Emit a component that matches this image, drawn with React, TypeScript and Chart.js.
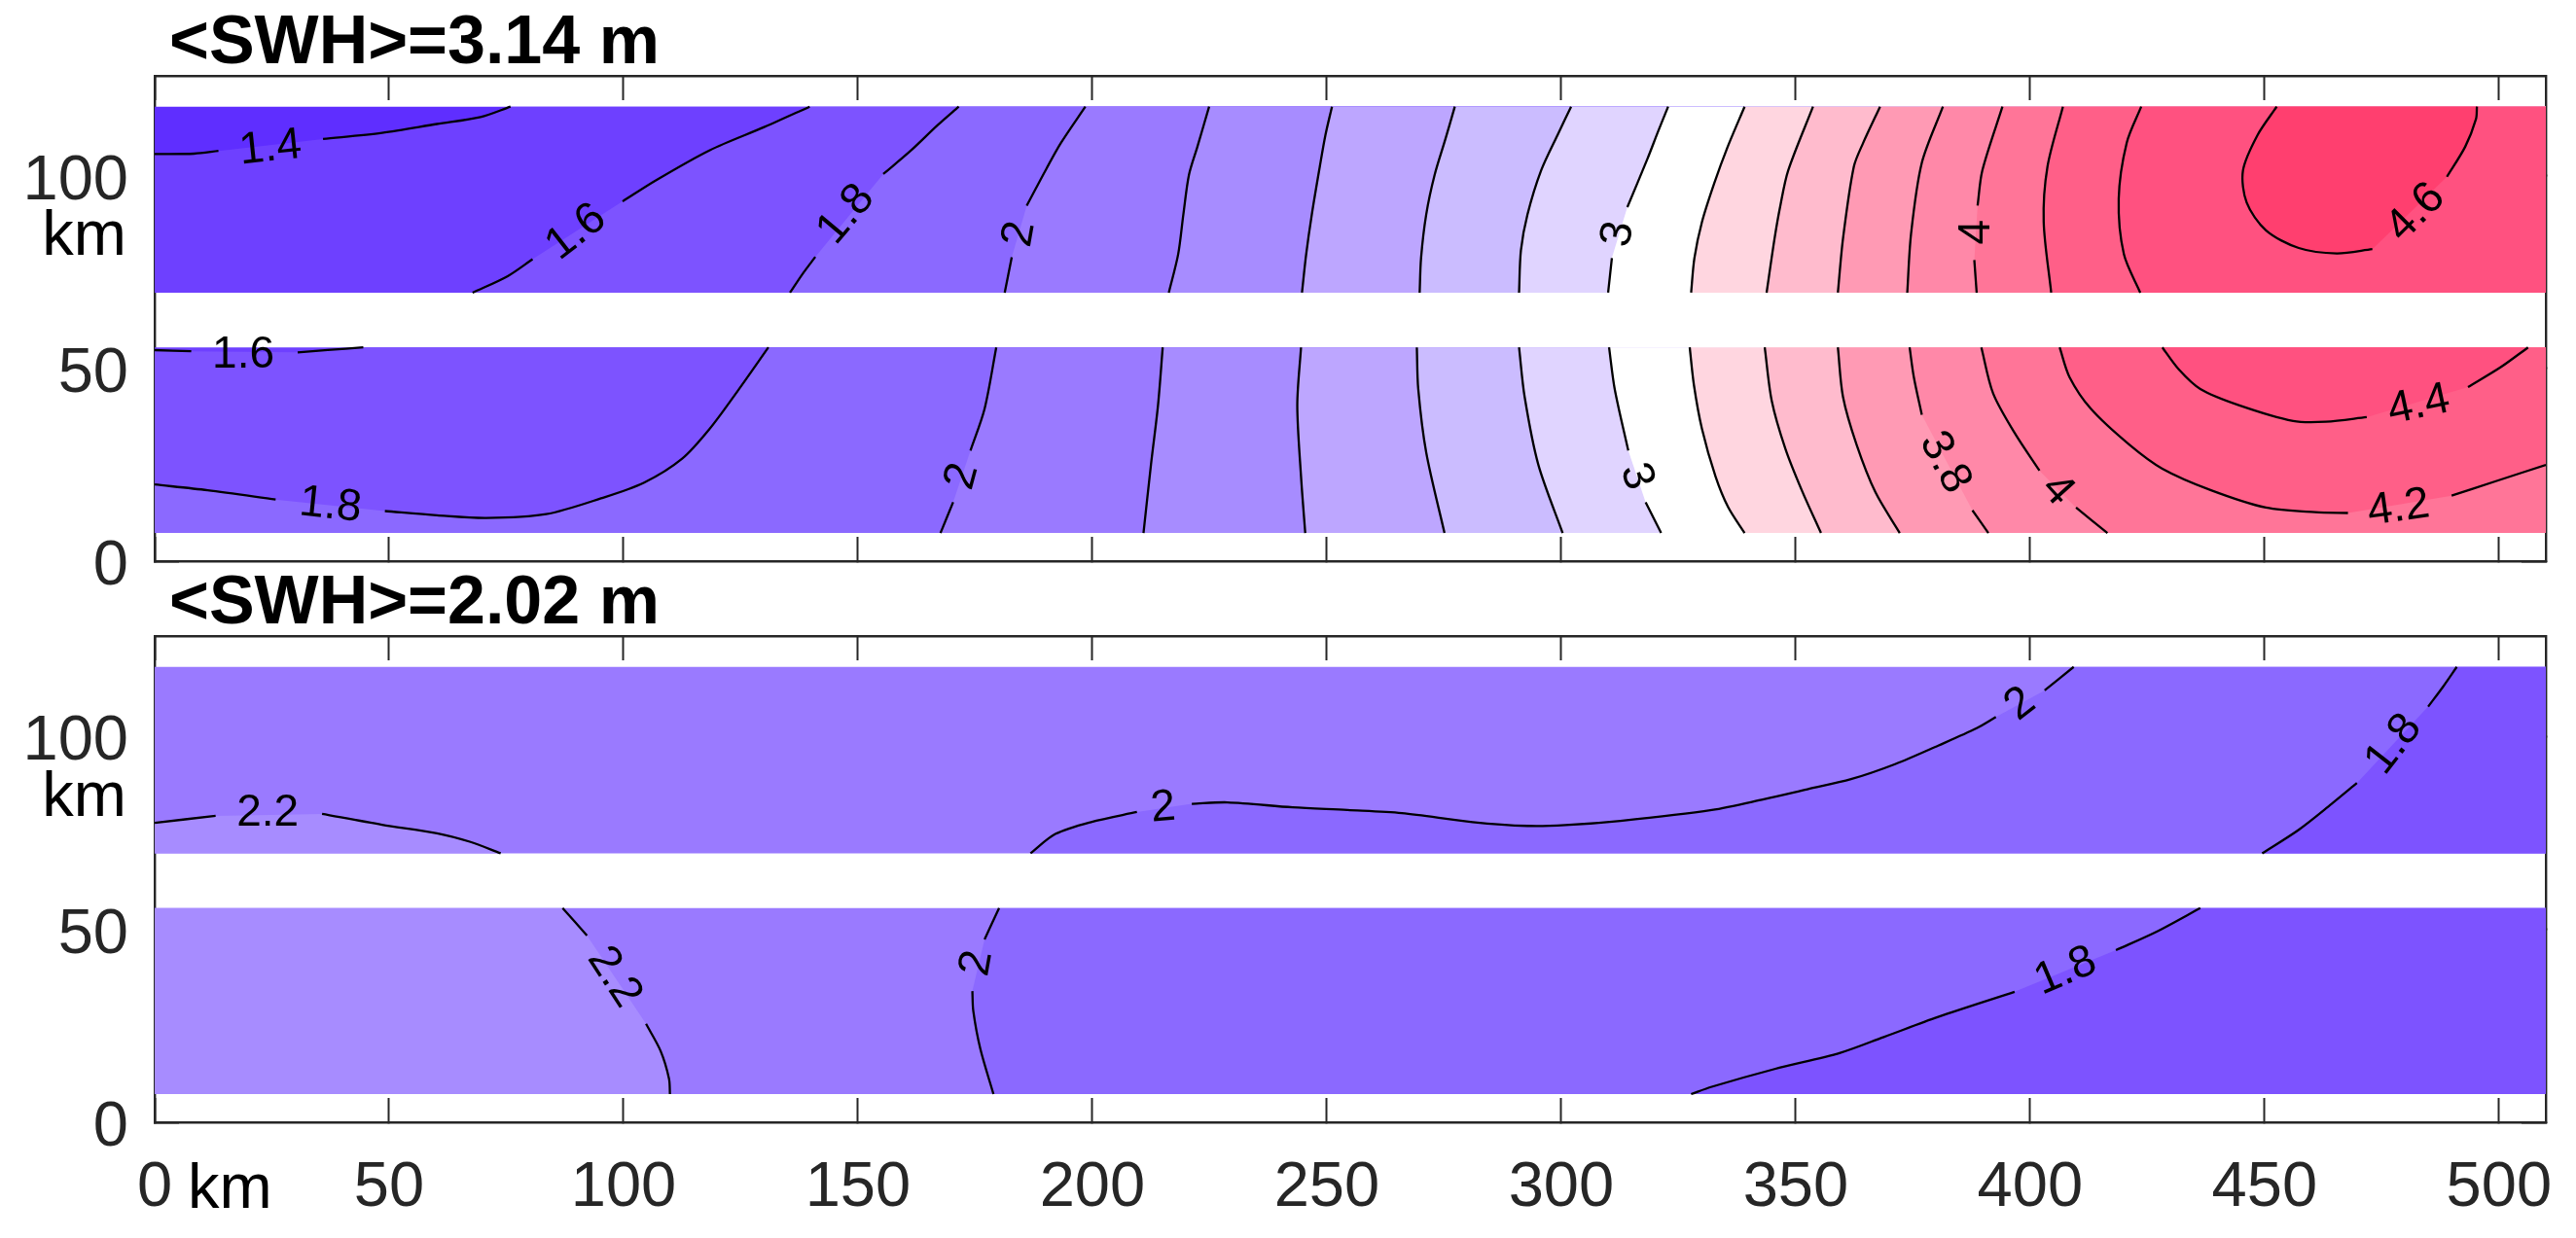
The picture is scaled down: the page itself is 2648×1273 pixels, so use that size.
import React, { useEffect, useRef } from "react";
import { Chart, registerables } from "chart.js";

Chart.register(...registerables);

type P = [number, number] | null;

const FONT = '"Liberation Sans"';
const xTicks = [0, 50, 100, 150, 200, 250, 300, 350, 400, 450, 500];
const yTicks = [0, 50, 100];
const XMAX = 510;
const YMAX = 126;
const titleTop = "<SWH>=3.14 m";
const titleBottom = "<SWH>=2.02 m";

// colours of the filled contour levels
const cLt14 = "#5f2eff";
const c14 = "#6e40ff";
const c16 = "#7d53ff";
const c18 = "#8b69ff";
const c20 = "#9a7aff";
const c22 = "#a78cff";
const c24 = "#bda6ff";
const c26 = "#cbbcff";
const c28 = "#e0d4ff";
const c30 = "#ffffff";
const c32 = "#ffd6e0";
const c34 = "#ffbbcd";
const c36 = "#ff9ab4";
const c38 = "#ff88a8";
const c40 = "#ff7598";
const c42 = "#ff5f88";
const c44 = "#ff5180";
const c46 = "#ff3f6f";

// bands of data (km)
const upTop = 118, upBot = 69.7, loTop = 55.5, loBot = 7.3;

// TOP PANEL, upper band
const a14: P[] = [[0,105.7],[8.4,105.8],[13.6,106.5],null,[35.9,109.6],[48.5,111.2],[60.2,113.5],[69.5,115.3],[75.9,118]];
const a16: P[] = [[67.8,69.7],[75.3,74],[80.6,78.4],null,[99.8,93.4],[106.8,98.8],[118.4,106.7],[130,112.7],[139.7,118]];
const a18: P[] = [[135.5,69.7],[138.2,74.6],[140.9,79],null,[155.4,100.5],[161.2,106.5],[167,113.2],[171.5,118]];
const a20: P[] = [[181.3,69.7],[182.8,78.9],null,[186,92.3],[190.2,101.9],[193.3,108.6],[198.5,118]];
const a22: P[] = [[216.3,69.7],[218.3,79.7],[219.4,90],[220.6,100.3],[222.4,107.6],[224.9,118]];
const a24: P[] = [[244.7,69.7],[245.6,79.7],[246.8,90],[248.5,102.4],[249.7,110.6],[251.1,118]];
const a26: P[] = [[269.8,69.7],[270.1,78.7],[271.2,90],[273,100.3],[275.3,109.6],[277.3,118]];
const a28: P[] = [[291,69.7],[291.4,80.7],[292.8,90],[295.7,101.4],[299.2,110.6],[302.1,118]];
const a30: P[] = [[310,69.7],[310.8,78.7],null,[314.1,91.9],[318.4,104.5],[320.7,111.7],[322.8,118]];
const a32: P[] = [[327.7,69.7],[328.4,78.7],[330,88],[332.6,98],[335.5,107.6],[339.1,118]];
const a34: P[] = [[343.8,69.7],[345.5,83.8],[346.7,92.1],[348.4,101.4],[353.7,118]];
const a36: P[] = [[359,69.7],[360.1,83.8],[362.4,102.4],[364.4,108.6],[368,118]];
const a38: P[] = [[373.8,69.7],[374.6,84.9],[376.9,103.4],[381.4,118]];
const a40: P[] = [[388.6,69.7],[388.1,78.2],null,[388.8,92.3],[389.8,101.4],[394.1,118]];
const a42: P[] = [[404.5,69.7],[402.9,88],[403.7,102.4],[407,118]];
const a44: P[] = [[423.5,69.7],[420,79.7],[418.9,94.1],[420.6,108.6],[423.7,118]];
const a46: P[] = [[452.6,118],[448.5,110.6],[445.4,101.4],[446.2,93.1],[450.3,85.9],[457.3,81.3],[465.4,79.9],[473,81],null,[488.9,99.8],[492.8,107.6],[495.1,114.8],[495.3,118]];

// TOP PANEL, lower band
const b16: P[] = [[0,54.8],[7.8,54.5],null,[30.5,54.2],[36.9,54.8],[44.5,55.5]];
const b18: P[] = [[0,19.9],[11.3,18.4],[25.8,16],null,[49.1,13],[60.2,11.9],[70.7,11.2],[83.5,12.2],[95.2,16.3],[104.4,20.4],[112.5,26.6],[118.4,34.4],[124.3,44.1],[130.9,55.5]];
const b20: P[] = [[179.5,55.5],[177,39.5],[174,28.7],null,[170.3,15.3],[167.6,7.3]];
const b22: P[] = [[215,55.5],[214,40.5],[212.5,25.1],[210.9,7.3]];
const b24: P[] = [[244.5,55.5],[243.7,40.5],[244.5,22],[245.4,7.3]];
const b26: P[] = [[269.2,55.5],[269.5,44.7],[271.2,28.2],[275.1,7.3]];
const b28: P[] = [[291,55.5],[292.2,42.6],[295.1,25.1],[300.3,7.3]];
const b30: P[] = [[310.2,55.5],[311.4,44.7],[314.3,28.7],null,[318,15.3],[321.3,7.3]];
const b32: P[] = [[327.4,55.5],[328.3,45.7],[330,34.4],[332.9,22],[335.6,14],[339.1,7.3]];
const b34: P[] = [[343.4,55.5],[344.9,41.6],[347.8,29.2],[351.3,18.4],[355.4,7.3]];
const b36: P[] = [[359,55.5],[360.1,42.6],[363,30.2],[367,17.9],[372.2,7.3]];
const b38: P[] = [[374.3,55.5],[375.2,47.8],[376.9,38],null,[387.7,13.2],[391.1,7.3]];
const b40: P[] = [[389.6,55.5],[392.1,43.6],[396.7,33.3],[402,23.5],null,[409.8,13.9],[416.5,7.3]];
const b42: P[] = [[406.3,55.5],[408.4,47.8],[413,39.5],[421.2,30.2],[428.2,24],[438.6,18.4],[450.3,13.9],[460.8,12.7],[467.8,12.5],null,[489.9,17],[499.2,20.7],[510,25]];
const b44: P[] = [[428.2,55.5],[431.7,49.8],[436.3,44.7],[444.5,40.5],[456.1,36.4],[463.1,36.2],[471.8,37.4],null,[493.4,45.2],[500.3,50.3],[506.2,55.5]];

// BOTTOM PANEL, upper band
const d22: P[] = [[0,77.6],[13,79.4],null,[35.7,79.9],[48.5,77.1],[60.2,74.9],[67.2,72.7],[73.8,69.7]];
const d20: P[] = [[186.8,69.7],[192.1,74.7],[199.7,77.8],[209.5,80.4],null,[221.2,82.5],[228.8,82.9],[242.7,81.6],[254.4,80.9],[266,80.1],[281.1,77.8],[292.8,76.8],[300.9,77],[312.6,78.1],[332.1,80.9],[343.2,83.7],[352.5,86.3],[361.8,88.9],[371.2,92.8],[380.4,97.6],[388.6,102.1],[392.7,105],null,[403.1,111.9],[409.3,118]];
const d18: P[] = [[449.5,69.7],[457.3,75.8],[464.3,82.5],[469.7,87.9],null,[484.9,107.7],[488.1,112.9],[491,118]];

// BOTTOM PANEL, lower band
const e22: P[] = [[87,55.5],[92.2,48.4],null,[104.8,25.5],[107.9,18.5],[109.7,11.3],[109.9,7.3]];
const e20: P[] = [[180.1,55.5],[177,47.4],null,[174.4,34],[174.6,28.8],[176.1,19],[178.9,7.3]];
const e18: P[] = [[327.7,7.3],[332.1,9.2],[345.5,13.8],[359.5,18],[368.8,22.1],[380.4,27.3],[396.7,33.8],null,[418.3,44.6],[427,49.4],[436.3,55.5]];

// contour labels: text, x km, y km, rotation in degrees
type L = [string, number, number, number];
const topLabels: L[] = [
  ["1.4",24.7,107.2,-6],["1.6",89.9,85.4,-38],["1.8",147.5,90,-50],["2",184.5,84.9,-80],
  ["3",312.2,84.9,-80],["4",388.6,85.4,-90],["4.6",482.3,90.5,-45],
  ["1.6",18.9,53.4,0],["1.8",37.5,14.4,6],["2",172.3,22,-75],["3",316,22,72],
  ["3.8",381.8,25.6,62],["4",405.8,18.4,48],["4.4",482.9,40.5,-12],["4.2",478.6,13.7,-8],
];
const bottomLabels: L[] = [
  ["2.2",24.1,80.1,0],["2",215.1,81.4,-5],["2",397.9,108.3,-38],["1.8",477.6,97.9,-52],
  ["2.2",98,37.6,57],["2",175.4,41.2,-80],["1.8",407.6,39.1,-23],
];

const clean = (l: P[]): P[] => l.filter((p) => p !== null);
const rightUp = (l: P[]): P[] => [...clean(l), [XMAX, upTop], [XMAX, upBot]];
const rightLo = (l: P[]): P[] => [...clean(l), [XMAX, loBot], [XMAX, loTop]];
const rect = (t: number, b: number): P[] => [[0, t], [XMAX, t], [XMAX, b], [0, b]];

type Layer = [P[], string];
const topLayers: Layer[] = [
  [rect(upTop, upBot), cLt14],
  [[...clean(a14), [XMAX, upTop], [XMAX, upBot], [0, upBot]], c14],
  [rightUp(a16), c16], [rightUp(a18), c18], [rightUp(a20), c20], [rightUp(a22), c22],
  [rightUp(a24), c24], [rightUp(a26), c26], [rightUp(a28), c28], [rightUp(a30), c30],
  [rightUp(a32), c32], [rightUp(a34), c34], [rightUp(a36), c36], [rightUp(a38), c38],
  [rightUp(a40), c40], [rightUp(a42), c42], [rightUp(a44), c44], [clean(a46), c46],
  [rect(loTop, loBot), c14],
  [[...clean(b16), [XMAX, loTop], [XMAX, loBot], [0, loBot]], c16],
  [[...clean(b18), [XMAX, loTop], [XMAX, loBot], [0, loBot]], c18],
  [rightLo(b20), c20], [rightLo(b22), c22], [rightLo(b24), c24], [rightLo(b26), c26],
  [rightLo(b28), c28], [rightLo(b30), c30], [rightLo(b32), c32], [rightLo(b34), c34],
  [rightLo(b36), c36], [rightLo(b38), c38], [rightLo(b40), c40],
  [[...clean(b42), [XMAX, loTop]], c42], [clean(b44), c44],
];
const topLines = [a14,a16,a18,a20,a22,a24,a26,a28,a30,a32,a34,a36,a38,a40,a42,a44,a46,b16,b18,b20,b22,b24,b26,b28,b30,b32,b34,b36,b38,b40,b42,b44];

const bottomLayers: Layer[] = [
  [rect(upTop, upBot), c20],
  [[...clean(d22), [0, upBot]], c22],
  [rightUp(d20), c18],
  [rightUp(d18), c16],
  [rect(loTop, loBot), c20],
  [[...clean(e22), [0, loBot], [0, loTop]], c22],
  [rightLo(e20), c18],
  [[...clean(e18), [XMAX, loTop], [XMAX, loBot]], c16],
];
const bottomLines = [d22, d20, d18, e22, e20, e18];

const AXIS = "#262626";
const toData = (l: P[]) => {
  let last = 0;
  return l.map((p) => {
    if (p === null) return { x: last, y: null };
    last = p[0];
    return { x: p[0], y: p[1] };
  });
};

const fit = (w: number | null, h: number | null) => (s: any) => {
  if (w !== null) s.width = w;
  if (h !== null) s.height = h;
  s.paddingLeft = s.paddingRight = s.paddingTop = s.paddingBottom = 0;
};

function makeChart(
  canvas: HTMLCanvasElement,
  title: string,
  layers: Layer[],
  lines: P[][],
  labels: L[],
  showX: boolean,
  bottomSpace: number,
) {
  const fixedTicks = (vals: number[]) => (s: any) => {
    s.ticks = vals.map((v) => ({ value: v }));
  };
  const common = (vals: number[]) => ({
    type: "linear" as const,
    min: 0,
    afterBuildTicks: fixedTicks(vals),
    border: { display: true, color: AXIS, width: 2.4 },
    grid: { drawOnChartArea: false, drawTicks: true, tickLength: -25, tickColor: AXIS, tickWidth: 2 },
  });
  const textPlugin = {
    id: "contourText",
    afterLayout(chart: any) {
      chart.titleBlock.left += 15;
    },
    afterDraw(chart: any) {
      const { ctx, scales } = chart;
      ctx.save();
      ctx.fillStyle = "#000";
      ctx.textAlign = "center";
      ctx.textBaseline = "middle";
      ctx.font = `46px ${FONT}`;
      for (const [t, x, y, r] of labels) {
        ctx.save();
        ctx.translate(scales.x.getPixelForValue(x), scales.y.getPixelForValue(y));
        ctx.rotate((r * Math.PI) / 180);
        ctx.fillText(t, 0, 0);
        ctx.restore();
      }
      ctx.font = `65px ${FONT}`;
      ctx.textAlign = "right";
      ctx.fillText("km", 130, scales.y.getPixelForValue(84));
      if (showX) {
        ctx.textAlign = "left";
        ctx.textBaseline = "alphabetic";
        ctx.fillText("km", 193, chart.height - 31);
      }
      ctx.restore();
    },
  };
  return new Chart(canvas, {
    type: "line",
    data: {
      datasets: [
        ...layers.map(([pts, color], i) => ({
          data: toData(pts),
          backgroundColor: color,
          borderWidth: 0,
          pointRadius: 0,
          fill: "shape",
          tension: 0,
          order: 1000 - i,
        })),
        ...lines.map((l) => ({
          data: toData(l),
          borderColor: "#000",
          borderWidth: 2.3,
          pointRadius: 0,
          fill: false,
          tension: 0.3,
          spanGaps: false,
          order: 1,
        })),
      ],
    } as any,
    options: {
      responsive: false,
      animation: false,
      devicePixelRatio: 1,
      parsing: { xAxisKey: "x", yAxisKey: "y" },
      layout: { padding: { left: 0, right: 31, top: 0, bottom: 0 } },
      plugins: {
        legend: { display: false },
        tooltip: { enabled: false },
        title: {
          display: true,
          text: title,
          align: "start",
          fullSize: false,
          color: "#000",
          font: { family: FONT, size: 70, weight: "bold", lineHeight: 65 / 70 },
          padding: { top: 13, bottom: 0 },
        },
      },
      scales: {
        x: {
          ...common(xTicks),
          position: "bottom",
          max: XMAX,
          afterFit: fit(null, bottomSpace),
          ticks: {
            display: showX,
            autoSkip: false,
            maxRotation: 0,
            padding: 54,
            color: AXIS,
            font: { family: FONT, size: 65 },
          },
        },
        x2: {
          ...common(xTicks),
          position: "top",
          max: XMAX,
          afterFit: fit(null, 0),
          ticks: { display: false },
        },
        y: {
          ...common(yTicks),
          position: "left",
          max: YMAX,
          afterFit: fit(159, null),
          ticks: {
            autoSkip: false,
            padding: 52,
            labelOffset: 6,
            color: AXIS,
            font: { family: FONT, size: 65 },
          },
        },
        y2: {
          ...common(yTicks),
          position: "right",
          max: YMAX,
          afterFit: fit(0, null),
          ticks: { display: false },
        },
      },
    } as any,
    plugins: [textPlugin],
  });
}

export default function App() {
  const refA = useRef<HTMLCanvasElement>(null);
  const refB = useRef<HTMLCanvasElement>(null);
  useEffect(() => {
    const a = makeChart(refA.current!, titleTop, topLayers, topLines, topLabels, false, 53);
    const b = makeChart(refB.current!, titleBottom, bottomLayers, bottomLines, bottomLabels, true, 119);
    return () => {
      a.destroy();
      b.destroy();
    };
  }, []);
  return (
    <div style={{ position: "fixed", left: 0, top: 0, width: 2648, height: 1273, overflow: "hidden", background: "#fff" }}>
      <canvas ref={refA} width={2648} height={630} style={{ position: "absolute", left: 0, top: 0, width: 2648, height: 630 }} />
      <canvas ref={refB} width={2648} height={697} style={{ position: "absolute", left: 0, top: 576, width: 2648, height: 697 }} />
    </div>
  );
}
